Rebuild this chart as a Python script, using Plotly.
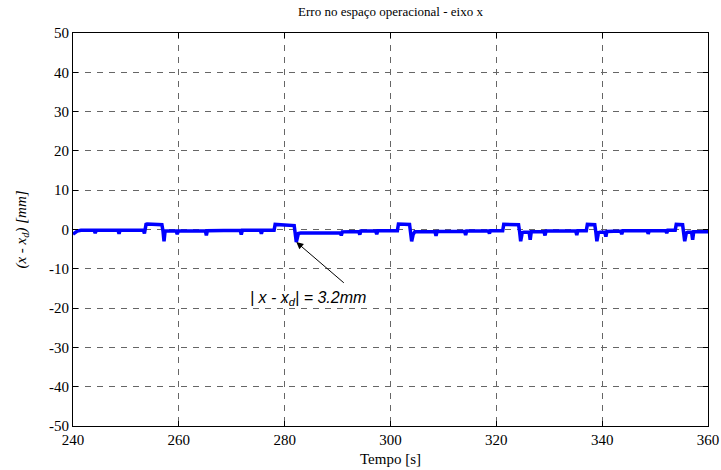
import plotly.graph_objects as go

# Time samples [s] and end-effector position error along x [mm]
tempo = [
    240.0, 240.8, 241.5, 244.0, 244.2, 244.4, 248.5, 248.7, 248.9,
    253.3, 253.5, 253.6, 253.8, 254.0, 256.6, 256.8, 257.0, 257.2, 257.4,
    259.5, 259.7, 259.9, 265.0, 265.2, 265.4, 271.6, 271.8, 272.0,
    275.4, 275.6, 275.8, 278.0, 278.2, 281.6, 281.8, 282.2, 282.6, 283.0,
    290.5, 290.7, 290.9, 294.0, 294.2, 294.4, 297.2, 297.4, 297.6,
    301.3, 301.5, 303.6, 303.8, 304.0, 304.3, 304.6,
    308.4, 308.6, 308.8, 314.0, 314.2, 314.4, 318.5, 318.7, 318.9,
    321.2, 321.4, 324.2, 324.4, 324.6, 324.9, 325.2, 326.2, 326.4, 326.6,
    329.0, 329.2, 329.4, 335.0, 335.2, 335.4,
    337.0, 337.2, 338.6, 338.8, 339.0, 339.3, 339.6, 340.5, 340.7, 340.9,
    343.5, 343.7, 343.9, 348.5, 348.7, 348.9, 352.0, 352.2, 352.4,
    353.8, 354.0, 355.2, 355.4, 355.6, 355.9, 356.2, 356.9, 357.1, 357.3,
    360.0,
]
erro = [
    -1.2, -0.4, -0.2, -0.2, -0.9, -0.2, -0.2, -1.1, -0.2,
    -0.2, -1.0, -0.3, 1.3, 1.4, 1.3, 1.2, -0.3, -3.0, -0.4,
    -0.4, -1.2, -0.4, -0.3, -1.5, -0.3, -0.2, -1.3, -0.2,
    -0.2, -1.1, -0.2, -0.2, 1.3, 1.2, 1.0, -3.2, -1.0, -0.9,
    -0.9, -1.5, -0.6, -0.5, -1.3, -0.4, -0.4, -1.2, -0.3,
    -0.3, 1.4, 1.3, -0.5, -3.0, -1.2, -0.6,
    -0.6, -1.6, -0.5, -0.5, -1.4, -0.4, -0.4, -1.0, -0.3,
    -0.3, 1.3, 1.2, -0.6, -3.0, -0.8, -0.7, -0.7, -2.6, -0.6,
    -0.6, -1.5, -0.4, -0.4, -1.4, -0.3,
    -0.3, 1.3, 1.2, -0.6, -3.0, -0.8, -0.7, -0.7, -1.8, -0.5,
    -0.4, -1.2, -0.3, -0.3, -1.1, -0.3, -0.3, -0.9, -0.2,
    -0.2, 1.3, 1.2, -0.6, -3.0, -0.9, -0.7, -0.7, -2.6, -0.6,
    -0.6,
]

x_ticks = [240, 260, 280, 300, 320, 340, 360]
y_ticks = [-50, -40, -30, -20, -10, 0, 10, 20, 30, 40, 50]
y_tick_text = ["%d" % v for v in y_ticks]  # plain hyphen for negatives

# Peak error called out on the chart
pico_t = 282.2
pico_erro = -3.2

serif = "Times New Roman, Liberation Serif, DejaVu Serif, serif"
sans = "Arial, Liberation Sans, sans-serif"

fig = go.Figure()
fig.add_trace(go.Scatter(
    x=tempo, y=erro, mode="lines",
    line=dict(color="#0000ff", width=3.5),
    showlegend=False,
))

axis_common = dict(
    showline=True, linecolor="black", linewidth=1, mirror="ticks",
    ticks="inside", ticklen=5, tickcolor="black",
    showgrid=True, gridcolor="#666666", griddash="6px,6px", gridwidth=1,
    zeroline=False, automargin=False,
    tickfont=dict(family=serif, size=15, color="black"),
)

fig.update_xaxes(
    range=[240, 360], tickvals=x_ticks,
    title=dict(text="Tempo [s]", font=dict(family=serif, size=15, color="black"),
               standoff=6),
    **axis_common,
)
fig.update_yaxes(
    range=[-50, 50], tickvals=y_ticks, ticktext=y_tick_text,
    title=dict(text="<i>(x - x<sub>d</sub>) [mm]</i>",
               font=dict(family=serif, size=15, color="black"), standoff=18),
    **axis_common,
)

fig.add_annotation(
    x=pico_t, y=pico_erro, xref="x", yref="y",
    text="", showarrow=True, arrowhead=2, arrowsize=1.4, arrowwidth=1,
    arrowcolor="black", ax=49, ay=42, axref="pixel", ayref="pixel",
)
fig.add_annotation(
    x=284.5, y=-17.5, xref="x", yref="y", showarrow=False,
    text="<i>| x - x<sub>d</sub>| = %.1fmm</i>" % abs(pico_erro),
    font=dict(family=sans, size=16, color="black"),
    xanchor="center", yanchor="middle",
)

fig.update_layout(
    width=721, height=470,
    margin=dict(l=73, r=13, t=33, b=44),
    paper_bgcolor="white", plot_bgcolor="white",
    title=dict(text="Erro no espaço operacional - eixo x",
               font=dict(family=serif, size=13, color="black"),
               x=0.5, xanchor="center", xref="paper", y=0.975, yanchor="middle"),
)

fig.write_html("out.html")
